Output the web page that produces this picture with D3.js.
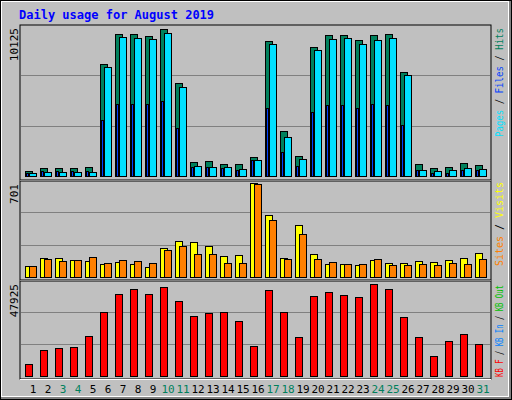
<!DOCTYPE html>
<html>
<head>
<meta charset="utf-8">
<script src="https://cdn.jsdelivr.net/npm/d3@7"></script>
<style>
  body { margin: 0; background: #fff; }
  text { font-family: "DejaVu Sans Mono", monospace; }
</style>
</head>
<body>
<div id="chart"></div>
<script>
const days = d3.range(1, 32);
const weekend = [3, 4, 10, 11, 17, 18, 24, 25, 31];

const hits = [335, 536, 536, 536, 603, 7504, 9514, 9514, 9380, 9849, 6231, 938, 1005, 804, 804, 1273,
  9045, 3015, 1340, 8643, 9447, 9447, 9112, 9447, 9514, 6968, 804, 536, 603, 871, 737];
const files = [201, 268, 268, 268, 268, 7303, 9313, 9246, 9179, 9581, 5963, 670, 603, 603, 469, 1072,
  8844, 2613, 1139, 8442, 9179, 9246, 8844, 9112, 9246, 6767, 402, 335, 402, 536, 469];
const pages = [201, 335, 335, 335, 335, 3752, 4824, 4824, 4824, 5025, 3216, 603, 603, 536, 402, 1072,
  4556, 1608, 670, 4288, 4757, 4757, 4556, 4824, 4757, 3417, 402, 201, 201, 402, 402];
const visits = [80, 137, 137, 123, 116, 94, 108, 94, 72, 210, 260, 253, 224, 152, 159, 680,
  448, 137, 376, 166, 94, 94, 87, 123, 101, 101, 116, 108, 123, 137, 174];
const sites = [80, 130, 116, 123, 145, 101, 123, 116, 101, 195, 224, 166, 166, 101, 101, 672,
  412, 130, 311, 130, 108, 94, 94, 130, 87, 87, 94, 87, 101, 94, 130];
const kbytes = [5988, 12974, 13972, 14471, 19960, 31936, 40918, 43413, 40918, 44411, 37425, 29940, 31437,
  31936, 27445, 14970, 42914, 31936, 19461, 39920, 41916, 40419, 39421, 45908, 43413, 29441, 19461,
  9980, 17465, 20958, 15968];

const W = 512, H = 400;
const svg = d3.select("#chart").append("svg").attr("width", W).attr("height", H);

// outer frame
svg.append("rect").attr("x", 0).attr("y", 0).attr("width", W).attr("height", H).attr("fill", "#000");
svg.append("rect").attr("x", 1).attr("y", 1).attr("width", W - 2).attr("height", H - 2).attr("fill", "#808080");
svg.append("rect").attr("x", 1).attr("y", 1).attr("width", W - 4).attr("height", H - 4).attr("fill", "#fff");
svg.append("rect").attr("x", 2).attr("y", 2).attr("width", W - 6).attr("height", H - 6).attr("fill", "#c0c0c0");

svg.append("text").attr("x", 19).attr("y", 19)
  .style("font-size", "12px").style("font-weight", "bold").attr("fill", "#0000ff")
  .text("Daily usage for August 2019");

const x = d3.scaleLinear().domain([1, 32]).range([25, 25 + 31 * 15]);

const panels = [
  { top: 25, bottom: 176, frameBottom: 180, max: 10125 },
  { top: 180, bottom: 277, frameBottom: 280, max: 701 },
  { top: 280, bottom: 376, frameBottom: 379, max: 47925 }
];

panels.forEach(p => {
  p.y = d3.scaleLinear().domain([0, p.max]).range([p.bottom, p.top]);
  const ft = p === panels[0] ? 25 : p.top + 1;
  svg.append("rect").attr("x", 20).attr("y", ft).attr("width", 471).attr("height", p.frameBottom - ft)
    .attr("fill", "#c0c0c0").attr("stroke", "#000").attr("stroke-width", 1);
  svg.append("line").attr("x1", 20).attr("x2", 491).attr("y1", p.frameBottom + 0.5).attr("y2", p.frameBottom + 0.5)
    .attr("stroke", "#fff");
  [1 / 3, 2 / 3].forEach(f => {
    const gy = Math.round(p.y(p.max * f)) + 0.5;
    svg.append("line").attr("x1", 21).attr("x2", 490).attr("y1", gy).attr("y2", gy)
      .attr("stroke", "#808080");
  });
  svg.append("text")
    .attr("transform", `translate(18,${ft + 3}) rotate(-90)`)
    .attr("text-anchor", "end").style("font-size", "11px").attr("fill", "#000")
    .text(p.max);
});

function bars(panel, values, dx, w, color) {
  const y = panel.y;
  svg.append("g").selectAll("rect").data(values).enter().append("rect")
    .attr("x", (d, i) => x(days[i]) + dx + 0.5)
    .attr("y", d => Math.round(y(d)) + 0.5)
    .attr("width", w)
    .attr("height", d => panel.bottom - Math.round(y(d)))
    .attr("fill", color).attr("stroke", "#000").attr("stroke-width", 1);
}

bars(panels[0], hits, 0, 7, "#00805c");
bars(panels[0], files, 4, 7, "#00e0ff");
bars(panels[0], pages, 1, 2, "#0040ff");
bars(panels[1], visits, 0, 7, "#ffff00");
bars(panels[1], sites, 4, 7, "#ff8000");
bars(panels[2], kbytes, 0, 7, "#ff0000");

// day labels
svg.append("g").selectAll("text").data(days).enter().append("text")
  .attr("x", d => x(d) + 8).attr("y", 393)
  .attr("text-anchor", "middle").style("font-size", "11px")
  .attr("fill", d => weekend.includes(d) ? "#00805c" : "#000")
  .text(d => d);

// right side legends (read bottom to top)
function legend(yStart, len, parts) {
  const t = svg.append("text")
    .attr("transform", `translate(503,${yStart}) rotate(-90)`)
    .attr("textLength", len).attr("lengthAdjust", "spacingAndGlyphs")
    .style("font-size", "10px");
  parts.forEach(([s, c]) => t.append("tspan").attr("fill", c).text(s));
}
legend(137, 109, [["Pages", "#00e0ff"], [" / ", "#000"], ["Files", "#0040ff"], [" / ", "#000"], ["Hits", "#00805c"]]);
legend(266, 84, [["Sites", "#ff8000"], [" / ", "#000"], ["Visits", "#ffff00"]]);
legend(377, 92, [["KB F", "#ff0000"], [" / ", "#000"], ["KB In", "#0080ff"], [" / ", "#000"], ["KB Out", "#00c000"]]);
</script>
</body>
</html>
